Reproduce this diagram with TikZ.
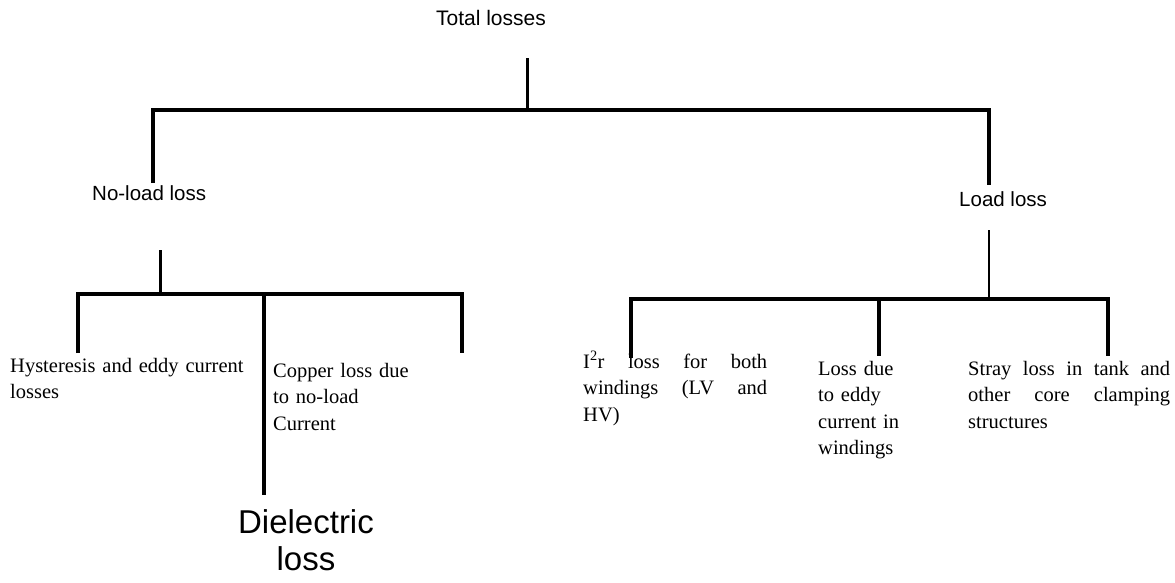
\documentclass[tikz,border=0pt]{standalone}
\usepackage{fontspec}
\setmainfont{Liberation Serif}
\newfontfamily\arialf{Liberation Sans}
\begin{document}
\begin{tikzpicture}[x=1pt,y=-1pt,
  heavy/.style={line width=4pt,line join=miter},
  medium/.style={line width=3pt},
  light/.style={line width=1.8pt},
  sanslbl/.style={inner sep=0pt,font=\arialf\fontsize{20.5}{24}\selectfont},
  seriflbl/.style={inner sep=0pt,anchor=base west,align=left,font=\fontsize{20.5}{26.5}\selectfont},
  bigsans/.style={inner sep=0pt,anchor=base,align=center,font=\arialf\fontsize{33}{37}\selectfont}]
\useasboundingbox (0,0) rectangle (1175,582);

% labels
\node[sanslbl,font=\arialf\fontsize{21}{24}\selectfont,anchor=base] (total) at (491,25) {Total losses};
\node[sanslbl,anchor=base west] (noload) at (92,200) {No-load loss};
\node[sanslbl,anchor=base west] (load) at (959,206) {Load loss};

\node[seriflbl,text width=240pt] (hyst) at (10,372) {Hysteresis and eddy current\\losses};
\node[seriflbl,text width=140pt] (copper) at (273,377) {Copper loss due\\to no-load\\Current};
\node[bigsans,text width=160pt] (diel) at (306,533) {Dielectric\\loss};

\node[seriflbl,text width=184pt] (i2r) at (583,368) {I\textsuperscript{2}r\hfill loss\hfill for\hfill both\\windings\hfill (LV\hfill and\\HV)};
\node[seriflbl,text width=120pt] (eddy) at (818,375) {Loss due\\to eddy\\current in\\windings};
\node[seriflbl,text width=202pt] (stray) at (968,375) {Stray\hfill loss\hfill in\hfill tank\hfill and\\other\hfill core\hfill clamping\\structures};

% junction coordinates
\coordinate (t0) at (527,58);
\coordinate (t1) at (527,110);
\coordinate (tl) at (153,110);
\coordinate (tr) at (989,110);
\coordinate (tle) at (153,183);
\coordinate (tre) at (989,185);

\coordinate (n0) at (160,250);
\coordinate (n1) at (160,294);
\coordinate (nl) at (78,294);
\coordinate (nr) at (462,294);
\coordinate (nm) at (264,294);
\coordinate (nle) at (78,353);
\coordinate (nre) at (462,353);
\coordinate (nme) at (264,495);

\coordinate (l0) at (989,230);
\coordinate (l1) at (989,299);
\coordinate (ll) at (631,299);
\coordinate (lr) at (1108,299);
\coordinate (lm) at (879,299);
\coordinate (lle) at (631,358);
\coordinate (lre) at (1108,356);
\coordinate (lme) at (879,356);

% connectors
\draw[medium] (t0) -- (t1);
\draw[heavy] (tle) -- (tl) -- (tr) -- (tre);

\draw[medium] (n0) -- (n1);
\draw[heavy] (nle) -- (nl) -- (nr) -- (nre);
\draw[heavy] (nm) -- (nme);

\draw[light] (l0) -- (l1);
\draw[heavy] (lle) -- (ll) -- (lr) -- (lre);
\draw[heavy] (lm) -- (lme);
\end{tikzpicture}
\end{document}
